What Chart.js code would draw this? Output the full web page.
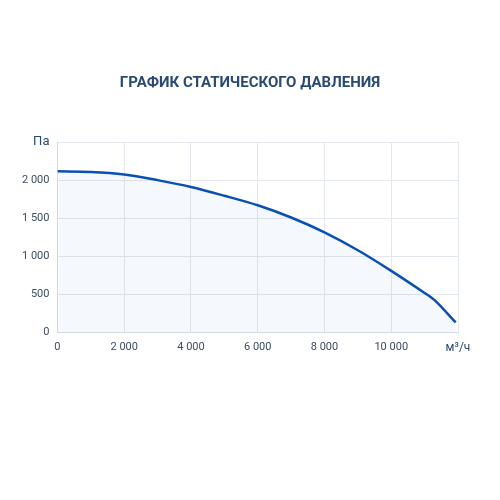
<!DOCTYPE html>
<html>
<head>
<meta charset="utf-8">
<script src="https://cdn.jsdelivr.net/npm/chart.js@4"></script>
<style>
  html, body { margin: 0; padding: 0; background: #ffffff; }
  #wrap { width: 500px; height: 500px; position: relative; }
</style>
</head>
<body>
<div id="wrap"><canvas id="chart"></canvas></div>
<script>
// flow (м³/ч) and static pressure (Па)
const flow = [0, 1000, 2000, 3000, 4000, 5000, 6000, 7000, 8000, 9000, 10000, 11000, 11300, 11930];
const pressure = [2115, 2108, 2075, 2000, 1910, 1795, 1670, 1510, 1315, 1080, 810, 520, 425, 135];
const xTicks = [0, 2000, 4000, 6000, 8000, 10000, 12000];
const yTicks = [0, 500, 1000, 1500, 2000, 2500];
const xUnit = 'м³/ч';
const yUnit = 'Па';
const titleText = 'ГРАФИК СТАТИЧЕСКОГО ДАВЛЕНИЯ';

const fmt = v => v.toLocaleString('ru-RU').replace(/\s/g, ' ');
const points = flow.map((x, i) => ({ x: x, y: pressure[i] }));
const isVal = (ctx, v) => !!(ctx && ctx.tick && ctx.tick.value === v);

// title centred on the whole canvas, not on the padded box
const pageTitle = {
    id: 'pageTitle',
    afterDraw(chart) {
        const c = chart.ctx;
        c.save();
        c.font = 'bold 15px Roboto';
        c.fillStyle = '#2b4a72';
        c.textAlign = 'center';
        c.textBaseline = 'middle';
        c.fillText(titleText, chart.width / 2, 83);
        c.restore();
    }
};

new Chart(document.getElementById('chart'), {
    type: 'line',
    data: {
        datasets: [{
            data: points,
            borderColor: '#0a4fb3',
            backgroundColor: 'rgba(60, 120, 200, 0.05)',
            borderWidth: 2.5,
            fill: true,
            tension: 0.3,
            pointRadius: 0
        }]
    },
    options: {
        responsive: true,
        maintainAspectRatio: false,
        animation: false,
        layout: { padding: { left: 14, right: 42, top: 142, bottom: 137 } },
        plugins: {
            legend: { display: false },
            tooltip: { enabled: false }
        },
        scales: {
            x: {
                type: 'linear',
                min: 0, max: 12000,
                afterBuildTicks: axis => { axis.ticks = xTicks.map(v => ({ value: v })); },
                grid: { color: '#e3e7ee', drawTicks: false },
                border: { color: '#d5dbe5' },
                ticks: {
                    padding: 8,
                    maxRotation: 0,
                    color: ctx => isVal(ctx, 12000) ? '#2b4a72' : '#3d4b5f',
                    font: ctx => ({ family: 'Roboto', size: isVal(ctx, 12000) ? 12 : 11 }),
                    callback: v => v === 12000 ? xUnit : fmt(v)
                }
            },
            y: {
                min: 0, max: 2500,
                afterBuildTicks: axis => { axis.ticks = yTicks.map(v => ({ value: v })); },
                grid: { color: '#e3e7ee', drawTicks: false },
                border: { color: '#d5dbe5' },
                ticks: {
                    padding: 8,
                    color: ctx => isVal(ctx, 2500) ? '#2b4a72' : '#3d4b5f',
                    font: ctx => ({ family: 'Roboto', size: isVal(ctx, 2500) ? 13 : 11 }),
                    callback: v => v === 2500 ? yUnit : fmt(v)
                }
            }
        }
    },
    plugins: [pageTitle]
});
</script>
</body>
</html>
